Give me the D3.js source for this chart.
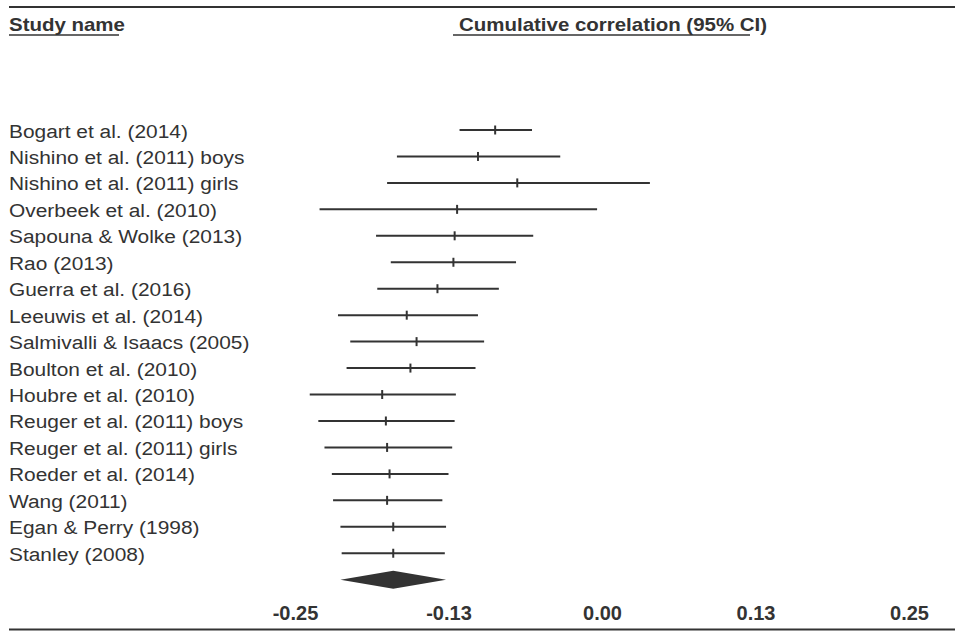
<!DOCTYPE html>
<html>
<head>
<meta charset="utf-8">
<script src="https://cdn.jsdelivr.net/npm/d3@7"></script>
<style>
  body { margin: 0; background: #fff; }
  svg { display: block; font-family: "Liberation Sans", Arial, Helvetica, sans-serif; }
</style>
</head>
<body>
<svg id="chart" width="955" height="631"></svg>
<script>
const studies = [
  'Bogart et al. (2014)',
  'Nishino et al. (2011) boys',
  'Nishino et al. (2011) girls',
  'Overbeek et al. (2010)',
  'Sapouna & Wolke (2013)',
  'Rao (2013)',
  'Guerra et al. (2016)',
  'Leeuwis et al. (2014)',
  'Salmivalli & Isaacs (2005)',
  'Boulton et al. (2010)',
  'Houbre et al. (2010)',
  'Reuger et al. (2011) boys',
  'Reuger et al. (2011) girls',
  'Roeder et al. (2014)',
  'Wang (2011)',
  'Egan & Perry (1998)',
  'Stanley (2008)',
];
const lower = [-0.116, -0.167, -0.175, -0.230, -0.184, -0.172, -0.183, -0.215, -0.205, -0.208, -0.238, -0.231, -0.226, -0.220, -0.219, -0.213, -0.212];
const point = [-0.087, -0.101, -0.069, -0.118, -0.120, -0.121, -0.134, -0.159, -0.151, -0.156, -0.179, -0.176, -0.175, -0.173, -0.175, -0.170, -0.170];
const upper = [-0.057, -0.034, 0.039, -0.004, -0.056, -0.070, -0.084, -0.101, -0.096, -0.103, -0.119, -0.120, -0.122, -0.125, -0.130, -0.127, -0.128];
const summary = { lower: -0.213, point: -0.170, upper: -0.127 };
const tickValues = [-0.25, -0.125, 0, 0.125, 0.25];

const ink = '#333';
const svg = d3.select('#chart');

const x = d3.scaleLinear()
  .domain([-0.25, 0.25])
  .range([295, 909]);

// one slot per study plus the summary diamond
const y = d3.scalePoint()
  .domain(studies.concat(['summary']))
  .range([130, 579.7]);

const rows = studies.map((name, i) => ({ name, lo: lower[i], pt: point[i], hi: upper[i] }));

// frame lines
svg.append('line')
  .attr('x1', 9).attr('x2', 955).attr('y1', 7).attr('y2', 7)
  .attr('stroke', ink).attr('stroke-width', 2);
svg.append('line')
  .attr('x1', 9).attr('x2', 955).attr('y1', 629.5).attr('y2', 629.5)
  .attr('stroke', ink).attr('stroke-width', 2);

// headers
svg.append('text')
  .attr('transform', 'translate(9,31) scale(1.1,1)')
  .attr('font-size', 18.6).attr('font-weight', 'bold').attr('fill', ink)
  .text('Study name');
svg.append('line')
  .attr('x1', 9).attr('x2', 119).attr('y1', 35).attr('y2', 35)
  .attr('stroke', ink).attr('stroke-width', 1.5);

svg.append('text')
  .attr('transform', 'translate(459,31) scale(1.1,1)')
  .attr('font-size', 18.6).attr('font-weight', 'bold').attr('fill', ink)
  .text('Cumulative correlation (95% CI)');
svg.append('line')
  .attr('x1', 453).attr('x2', 750).attr('y1', 35).attr('y2', 35)
  .attr('stroke', ink).attr('stroke-width', 1.5);

// study names
svg.append('g').selectAll('text')
  .data(rows)
  .join('text')
  .attr('transform', (d) => `translate(9,${y(d.name) + 7.5}) scale(1.1,1)`)
  .attr('font-size', 19)
  .attr('fill', ink)
  .text((d) => d.name);

// confidence intervals
const ci = svg.append('g');
ci.selectAll('line.ci')
  .data(rows)
  .join('line')
  .attr('class', 'ci')
  .attr('x1', (d) => x(d.lo))
  .attr('x2', (d) => x(d.hi))
  .attr('y1', (d) => y(d.name))
  .attr('y2', (d) => y(d.name))
  .attr('stroke', ink)
  .attr('stroke-width', 2);

ci.selectAll('line.pt')
  .data(rows)
  .join('line')
  .attr('class', 'pt')
  .attr('x1', (d) => x(d.pt))
  .attr('x2', (d) => x(d.pt))
  .attr('y1', (d) => y(d.name) - 4.5)
  .attr('y2', (d) => y(d.name) + 4.5)
  .attr('stroke', ink)
  .attr('stroke-width', 2);

// summary diamond
const sy = y('summary');
svg.append('path')
  .attr('d', d3.line()([
    [x(summary.lower), sy],
    [x(summary.point), sy - 9],
    [x(summary.upper), sy],
    [x(summary.point), sy + 9],
  ]) + 'Z')
  .attr('fill', ink);

// axis labels (plain hyphen minus, like the original)
const axis = d3.axisBottom(x)
  .tickValues(tickValues)
  .tickFormat((d) => d.toFixed(2))
  .tickSize(0)
  .tickPadding(0);

svg.append('g')
  .attr('transform', 'translate(0,605.8)')
  .call(axis)
  .call((g) => g.select('.domain').remove())
  .call((g) => g.selectAll('text')
    .attr('font-size', 20)
    .attr('font-weight', 'bold')
    .attr('font-family', '"Liberation Sans", Arial, sans-serif')
    .attr('fill', ink));
</script>
</body>
</html>
